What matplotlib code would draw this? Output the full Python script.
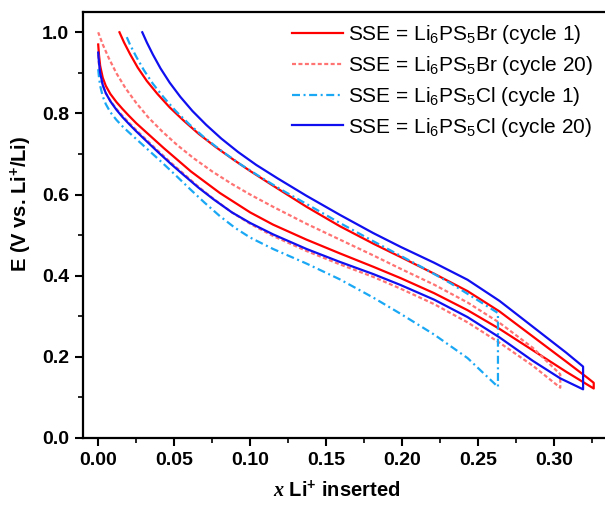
import matplotlib
matplotlib.use("Agg")
import matplotlib.pyplot as plt
from matplotlib.ticker import MultipleLocator

plt.rcParams["font.family"] = "Liberation Sans"
plt.rcParams["mathtext.fontset"] = "custom"
plt.rcParams["mathtext.rm"] = "Liberation Sans"
plt.rcParams["mathtext.bf"] = "Liberation Sans:bold"
plt.rcParams["mathtext.it"] = "Liberation Serif:italic:bold"

# Li6PS5Br, cycle 1 (red solid): lower branch, step at the end, upper branch back
br1_x = [0.000, 0.0005, 0.0013, 0.003, 0.005, 0.008, 0.012, 0.016, 0.020, 0.025, 0.030, 0.043,
         0.061, 0.080, 0.100, 0.115, 0.137, 0.159, 0.181, 0.199, 0.221, 0.243, 0.264, 0.286,
         0.308, 0.326, 0.326,
         0.322, 0.308, 0.286, 0.264, 0.243, 0.221, 0.199, 0.181, 0.159, 0.137, 0.115, 0.100,
         0.089, 0.077, 0.066, 0.056, 0.047, 0.039, 0.032, 0.026, 0.021, 0.017, 0.014]
br1_E = [0.970, 0.945, 0.917, 0.888, 0.868, 0.848, 0.828, 0.811, 0.795, 0.776, 0.759, 0.715,
         0.657, 0.604, 0.556, 0.526, 0.489, 0.455, 0.422, 0.394, 0.357, 0.315, 0.269, 0.216,
         0.163, 0.122, 0.136,
         0.148, 0.188, 0.250, 0.312, 0.362, 0.405, 0.446, 0.479, 0.522, 0.570, 0.622, 0.658,
         0.686, 0.718, 0.750, 0.783, 0.815, 0.848, 0.880, 0.913, 0.946, 0.975, 1.000]

# Li6PS5Br, cycle 20 (pink dashed)
br20_x = [0.000, 0.0005, 0.0013, 0.003, 0.005, 0.008, 0.012, 0.016, 0.020, 0.025, 0.030, 0.039,
          0.048, 0.056, 0.066, 0.076, 0.088, 0.100, 0.115, 0.137, 0.159, 0.181, 0.199, 0.221,
          0.243, 0.264, 0.286, 0.304, 0.304,
          0.286, 0.264, 0.243, 0.221, 0.199, 0.181, 0.159, 0.137, 0.115, 0.100, 0.088, 0.075,
          0.063, 0.052, 0.042, 0.033, 0.025, 0.018, 0.012, 0.007, 0.003, 0.000]
br20_E = [0.945, 0.922, 0.898, 0.869, 0.850, 0.831, 0.811, 0.794, 0.778, 0.759, 0.741, 0.709,
          0.678, 0.652, 0.619, 0.589, 0.556, 0.528, 0.498, 0.461, 0.428, 0.397, 0.368, 0.330,
          0.285, 0.235, 0.178, 0.124, 0.157,
          0.222, 0.284, 0.334, 0.378, 0.417, 0.450, 0.489, 0.528, 0.570, 0.600, 0.626, 0.657,
          0.689, 0.722, 0.756, 0.790, 0.826, 0.862, 0.899, 0.936, 0.970, 1.000]

# Li6PS5Cl, cycle 1 (cyan dash-dot)
cl1_x = [0.000, 0.0005, 0.0013, 0.003, 0.005, 0.008, 0.012, 0.016, 0.020, 0.025, 0.030, 0.040,
         0.050, 0.060, 0.070, 0.080, 0.090, 0.100, 0.115, 0.137, 0.159, 0.181, 0.199, 0.221,
         0.243, 0.263, 0.263,
         0.247, 0.232, 0.214, 0.199, 0.181, 0.159, 0.137, 0.120, 0.106, 0.093, 0.081, 0.070,
         0.060, 0.051, 0.043, 0.036, 0.030, 0.025, 0.021, 0.018]
cl1_E = [0.909, 0.890, 0.868, 0.842, 0.823, 0.803, 0.784, 0.768, 0.754, 0.737, 0.720, 0.686,
         0.651, 0.615, 0.580, 0.547, 0.518, 0.494, 0.466, 0.430, 0.391, 0.346, 0.306, 0.255,
         0.197, 0.126, 0.308,
         0.346, 0.381, 0.419, 0.449, 0.485, 0.530, 0.577, 0.613, 0.645, 0.676, 0.708, 0.740,
         0.773, 0.806, 0.840, 0.873, 0.907, 0.940, 0.969, 0.995]

# Li6PS5Cl, cycle 20 (blue solid)
cl20_x = [0.000, 0.0005, 0.0013, 0.003, 0.005, 0.008, 0.012, 0.016, 0.020, 0.025, 0.030, 0.039,
          0.048, 0.056, 0.066, 0.076, 0.088, 0.100, 0.115, 0.137, 0.159, 0.181, 0.199, 0.221,
          0.243, 0.264, 0.286, 0.304, 0.319, 0.319,
          0.308, 0.286, 0.264, 0.243, 0.221, 0.199, 0.181, 0.159, 0.137, 0.118, 0.104, 0.092,
          0.081, 0.071, 0.062, 0.054, 0.047, 0.041, 0.036, 0.032, 0.029]
cl20_E = [0.950, 0.925, 0.900, 0.870, 0.850, 0.830, 0.809, 0.791, 0.775, 0.756, 0.738, 0.706,
          0.675, 0.649, 0.617, 0.588, 0.556, 0.530, 0.502, 0.466, 0.434, 0.404, 0.377, 0.341,
          0.298, 0.248, 0.190, 0.147, 0.120, 0.176,
          0.210, 0.274, 0.338, 0.390, 0.432, 0.471, 0.505, 0.550, 0.597, 0.640, 0.673, 0.705,
          0.738, 0.772, 0.806, 0.841, 0.876, 0.911, 0.945, 0.975, 1.000]

labels = [r"SSE = Li$_6$PS$_5$Br (cycle 1)",
          r"SSE = Li$_6$PS$_5$Br (cycle 20)",
          r"SSE = Li$_6$PS$_5$Cl (cycle 1)",
          r"SSE = Li$_6$PS$_5$Cl (cycle 20)"]

fig = plt.figure(figsize=(6.05, 5.07), dpi=100)
ax = fig.add_axes([83 / 605, 69 / 507, 532 / 605, 426 / 507])

ax.plot(br1_x, br1_E, color="#ff0000", lw=1.6, label=labels[0])
ax.plot(br20_x, br20_E, color="#ff7373", lw=1.6, dashes=(1.8, 1.1), label=labels[1])
ax.plot(cl1_x, cl1_E, color="#1aa8f5", lw=1.6, dashes=(3.6, 1.6, 0.9, 1.6), label=labels[2])
ax.plot(cl20_x, cl20_E, color="#0f0ff0", lw=1.6, label=labels[3])

ax.set_xlim(-0.01, 0.34)
ax.set_ylim(0, 1.05)
ax.xaxis.set_minor_locator(MultipleLocator(0.025))
ax.yaxis.set_minor_locator(MultipleLocator(0.1))
ax.set_xticks([0, 0.05, 0.10, 0.15, 0.20, 0.25, 0.30])
ax.set_xticklabels(["0.00", "0.05", "0.10", "0.15", "0.20", "0.25", "0.30"])
ax.set_yticks([0, 0.2, 0.4, 0.6, 0.8, 1.0])
ax.set_yticklabels(["0.0", "0.2", "0.4", "0.6", "0.8", "1.0"])

for s in ax.spines.values():
    s.set_linewidth(1.6)
ax.tick_params(which="major", direction="out", length=6, width=1.5, labelsize=14, pad=4)
ax.tick_params(which="minor", direction="out", length=3.5, width=1.2)
for t in ax.get_xticklabels() + ax.get_yticklabels():
    t.set_fontweight("bold")

ax.set_xlabel(r"$\it{x}$ Li$^{\bf{+}}$ inserted", fontsize=14.5, fontweight="bold")
ax.set_ylabel(r"E (V vs. Li$^{\bf{+}}$/Li)", fontsize=14.5, fontweight="bold")
ax.xaxis.set_label_coords((337 - 83) / 532, -0.097)
ax.yaxis.set_label_coords(-0.094, 0.55)

ax.legend(loc="upper left", bbox_to_anchor=(292 / 605, 1 - 23 / 507), bbox_transform=fig.transFigure,
          frameon=False, fontsize=15, handlelength=2.45, handletextpad=0.25,
          labelspacing=0.38, borderpad=0, borderaxespad=0)

fig.savefig("out.png", dpi=100)
